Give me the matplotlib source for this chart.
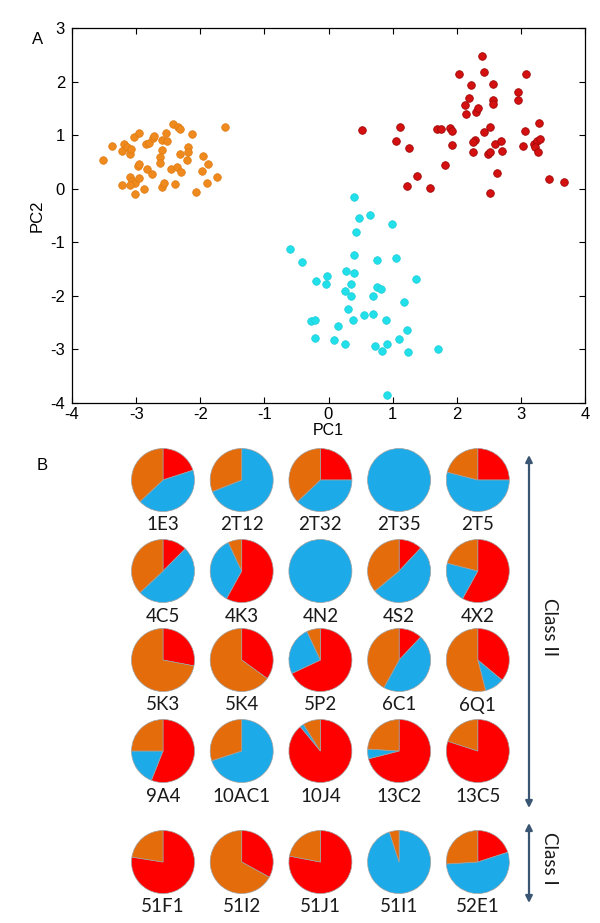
import matplotlib
matplotlib.use("Agg")
import matplotlib.pyplot as plt
from matplotlib.patches import FancyArrowPatch

plt.rcParams["axes.unicode_minus"] = False

# ---------------- data: PCA scatter ----------------
orange_x = [-3.51, -3.37, -3.19, -3.22, -3.15, -3.10, -3.08, -3.04, -2.95, -2.85, -2.80, -2.74, -2.72,
            -2.60, -2.52, -2.54, -2.43, -2.34, -2.31, -2.13, -1.61, -2.59, -2.62, -2.63, -2.97, -2.95,
            -2.83, -2.75, -3.10, -3.06, -3.02, -2.95, -3.22, -3.09, -3.01, -2.88, -2.59, -2.57, -2.40,
            -2.07, -1.90, -1.74, -1.98, -1.88, -1.96, -2.31, -2.19, -2.19, -2.20, -2.46, -2.37, -2.30]
orange_y = [0.54, 0.79, 0.83, 0.71, 0.78, 0.64, 0.74, 0.96, 1.04, 0.83, 0.86, 0.94, 0.99,
            0.91, 0.90, 1.04, 1.21, 1.15, 1.12, 1.03, 1.16, 0.73, 0.59, 0.48, 0.42, 0.46,
            0.36, 0.28, 0.21, 0.15, 0.10, 0.20, 0.07, 0.07, -0.09, -0.01, 0.04, 0.10, 0.08,
            -0.06, 0.10, 0.21, 0.34, 0.46, 0.61, 0.65, 0.78, 0.68, 0.54, 0.37, 0.40, 0.32]

red_x = [0.52, 1.12, 1.05, 1.26, 1.38, 1.23, 1.59, 1.81, 1.69, 1.75, 1.90, 1.93, 1.92, 2.04, 2.39,
         2.42, 2.22, 2.56, 2.19, 2.13, 2.15, 2.30, 2.33, 2.56, 2.57, 2.52, 2.43, 2.29, 2.26, 2.25,
         2.48, 2.52, 2.60, 2.69, 2.70, 2.62, 2.52, 2.96, 2.96, 3.08, 3.28, 3.07, 3.03, 3.20, 3.25,
         3.30, 3.22, 3.26, 3.44, 3.68]
red_y = [1.10, 1.16, 0.90, 0.76, 0.23, 0.05, 0.01, 0.44, 1.12, 1.12, 1.14, 1.07, 0.82, 2.14, 2.48,
         2.18, 1.93, 1.96, 1.69, 1.57, 1.40, 1.43, 1.51, 1.66, 1.59, 1.16, 1.06, 0.91, 0.88, 0.68,
         0.65, 0.68, 0.83, 0.89, 0.71, 0.29, -0.08, 1.81, 1.66, 2.14, 1.23, 1.07, 0.80, 0.84, 0.89,
         0.93, 0.78, 0.68, 0.18, 0.13]

cyan_x = [0.40, 0.47, 0.64, 0.99, 0.43, -0.60, -0.41, 0.40, 0.75, 1.06, 0.28, 0.40, -0.03, -0.20,
          -0.04, 0.35, 1.36, 0.26, 0.35, 0.75, 0.82, 0.70, 1.17, 0.30, 0.55, 0.70, 0.38, 0.89,
          -0.27, -0.21, 0.15, 1.23, -0.21, 0.08, 0.26, 0.73, 0.83, 0.92, 1.10, 1.24, 1.71, 0.92]
cyan_y = [-0.16, -0.54, -0.49, -0.65, -0.81, -1.12, -1.36, -1.24, -1.33, -1.29, -1.54, -1.57, -1.63,
          -1.73, -1.77, -1.78, -1.68, -1.90, -2.01, -1.84, -1.88, -2.01, -2.12, -2.24, -2.35, -2.33,
          -2.45, -2.45, -2.46, -2.45, -2.56, -2.64, -2.78, -2.83, -2.90, -2.94, -3.02, -2.89, -2.81,
          -3.04, -2.99, -3.85]

x_ticks = [-4, -3, -2, -1, 0, 1, 2, 3, 4]
y_ticks = [-4, -3, -2, -1, 0, 1, 2, 3]

# ---------------- data: pie charts ----------------
pie_names = [["1E3", "2T12", "2T32", "2T35", "2T5"],
             ["4C5", "4K3", "4N2", "4S2", "4X2"],
             ["5K3", "5K4", "5P2", "6C1", "6Q1"],
             ["9A4", "10AC1", "10J4", "13C2", "13C5"],
             ["51F1", "51I2", "51J1", "51I1", "52E1"]]
red_frac = [[0.20, 0.00, 0.25, 0.00, 0.25],
            [0.125, 0.58, 0.00, 0.12, 0.58],
            [0.28, 0.35, 0.68, 0.12, 0.36],
            [0.56, 0.00, 0.89, 0.71, 0.80],
            [0.775, 0.33, 0.78, 0.00, 0.20]]
blue_frac = [[0.43, 0.69, 0.38, 1.00, 0.54],
             [0.505, 0.35, 1.00, 0.52, 0.21],
             [0.00, 0.00, 0.25, 0.46, 0.10],
             [0.19, 0.70, 0.02, 0.05, 0.00],
             [0.00, 0.00, 0.00, 0.95, 0.54]]
orange_frac = [[0.37, 0.31, 0.37, 0.00, 0.21],
               [0.37, 0.07, 0.00, 0.36, 0.21],
               [0.72, 0.65, 0.07, 0.42, 0.54],
               [0.25, 0.30, 0.09, 0.24, 0.20],
               [0.225, 0.67, 0.22, 0.05, 0.26]]

# ---------------- styles ----------------
C_OR_S = "#EE8A1E"
C_RED_S = "#D41010"
C_CY_S = "#22E0EA"
C_RED_P = "#FF0000"
C_BLUE_P = "#1CABE8"
C_OR_P = "#E46C0A"
ARROW_C = "#3B5672"
SANS = ["Liberation Sans", "DejaVu Sans"]
CAL = ["Lato", "DejaVu Sans"]

W, H = 600, 923
fig = plt.figure(figsize=(W / 100, H / 100), dpi=100)
fig.patch.set_facecolor("white")

# overlay axes in pixel units for panel B
ov = fig.add_axes([0, 0, 1, 1])
ov.set_axis_off()

col_x0, col_dx = 163, 78.7
row_y = [480, 571, 660, 751, 862]
radius = 31.5
for r in range(5):
    for c in range(5):
        vals = [red_frac[r][c], blue_frac[r][c], orange_frac[r][c]]
        cols = [C_RED_P, C_BLUE_P, C_OR_P]
        v2 = [v for v in vals if v > 0]
        c2 = [cc for v, cc in zip(vals, cols) if v > 0]
        cx = col_x0 + col_dx * c
        cy = H - row_y[r]
        ov.pie(v2, colors=c2, center=(cx, cy), radius=radius, startangle=90,
               counterclock=False, normalize=True,
               wedgeprops=dict(linewidth=0.5, edgecolor="#A0A0A0"))
        ov.text(cx, cy - 45, pie_names[r][c], ha="center", va="center",
                fontsize=13.5, family=CAL, color="#1a1a1a")

ov.set_xlim(0, W)
ov.set_ylim(0, H)
ov.set_aspect("auto")
ov.set_axis_off()

# arrows
for (y1, y2) in [(455, 808), (823, 903)]:
    arr = FancyArrowPatch((529, H - y1), (529, H - y2), arrowstyle="<|-|>",
                          mutation_scale=10, color=ARROW_C, linewidth=1.6,
                          shrinkA=0, shrinkB=0)
    ov.add_patch(arr)
ov.text(549, H - 627, "Class II", rotation=270, ha="center", va="center",
        fontsize=13.5, family=CAL, color="#1a1a1a")
ov.text(549, H - 858, "Class I", rotation=270, ha="center", va="center",
        fontsize=13.5, family=CAL, color="#1a1a1a")

ov.text(38, H - 39, "A", ha="center", va="center", fontsize=12, family=SANS)
ov.text(42, H - 466, "B", ha="center", va="center", fontsize=12, family=SANS)

# panel A scatter
ax = fig.add_axes([72 / W, 1 - 403 / H, 513 / W, 375 / H])
ax.scatter(orange_x, orange_y, s=30, color=C_OR_S, edgecolors="#E07A10", linewidths=0.5, zorder=3)
ax.scatter(red_x, red_y, s=30, color=C_RED_S, edgecolors="#A00808", linewidths=0.6, zorder=3)
ax.scatter(cyan_x, cyan_y, s=30, color=C_CY_S, edgecolors="#1CCCD8", linewidths=0.5, zorder=3)
ax.set_xlim(-4, 4)
ax.set_ylim(-4, 3)
ax.set_xticks(x_ticks)
ax.set_yticks(y_ticks)
ax.tick_params(direction="in", top=True, right=True, length=4, width=0.8, labelsize=12)
ax.tick_params(axis="x", pad=3)
ax.tick_params(axis="y", pad=5)
for lab in ax.get_xticklabels() + ax.get_yticklabels():
    lab.set_family(SANS)
for sp in ax.spines.values():
    sp.set_linewidth(0.9)
ax.set_xlabel("PC1", fontsize=11.5, family=SANS, labelpad=0.5)
ax.set_ylabel("PC2", fontsize=12, family=SANS, labelpad=4)

fig.savefig("out.png", dpi=100, facecolor="white")
